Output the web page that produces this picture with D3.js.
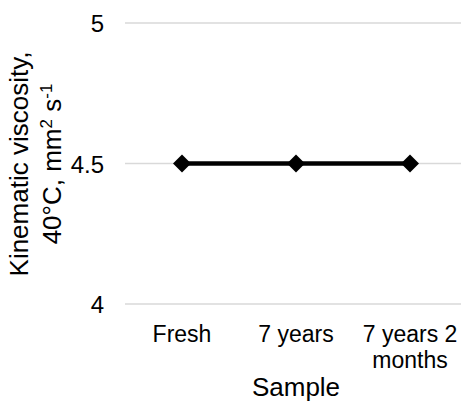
<!DOCTYPE html>
<html>
<head>
<meta charset="utf-8">
<script src="https://cdn.jsdelivr.net/npm/d3@7"></script>
<style>
  body { margin: 0; background: #fff; }
  text { font-family: "Liberation Sans", Arial, sans-serif; fill: #000; }
</style>
</head>
<body>
<svg width="461" height="401"></svg>
<script>
// data
var categories = ['Fresh', '7 years', '7 years 2 months'];
var viscosity = [4.5, 4.5, 4.5];
var yTicks = [4, 4.5, 5];

var svg = d3.select('svg');
var margin = {left: 125, right: -6, top: 23, bottom: 97};
var width = +svg.attr('width'), height = +svg.attr('height');
var innerwidth = width - margin.left - margin.right;
var innerheight = height - margin.top - margin.bottom;

var xscale = d3.scaleBand()
  .domain(categories)
  .range([0, innerwidth]);

var yscale = d3.scaleLinear()
  .domain([4, 5])
  .range([innerheight, 0]);

var g = svg.append('g').attr('transform', `translate(${margin.left},${margin.top})`);

// gridlines
g.append('g').selectAll('line').data(yTicks).enter()
  .append('line')
  .attr('x1', 0).attr('x2', innerwidth)
  .attr('y1', d => yscale(d)).attr('y2', d => yscale(d))
  .attr('stroke', '#d9d9d9').attr('stroke-width', 1.3);

// y axis labels
var yaxis = g.append('g').call(d3.axisLeft(yscale).tickValues(yTicks).tickSize(0).tickPadding(21).tickFormat(d => d));
yaxis.select('.domain').remove();
yaxis.selectAll('text').style('font-size', '24px').attr('font-family', null).attr('dy', '0.36em');

// x axis labels (wrapped like the original)
var xaxis = g.append('g').attr('transform', `translate(0,${innerheight})`)
  .call(d3.axisBottom(xscale).tickSize(0).tickPadding(0).tickFormat(''));
xaxis.select('.domain').remove();
xaxis.selectAll('.tick').each(function(d) {
  var t = d3.select(this).append('text').attr('text-anchor', 'middle').style('font-size', '23px');
  var lines = d === '7 years 2 months' ? ['7 years 2', 'months'] : [d];
  lines.forEach((s, i) => t.append('tspan').attr('x', 0).attr('y', 38 + i * 26).text(s));
});

// line + diamond markers
var pts = categories.map((c, i) => ({c: c, v: viscosity[i]}));
var cx = d => xscale(d.c) + xscale.bandwidth() / 2;

g.append('path').datum(pts)
  .attr('fill', 'none').attr('stroke', '#000').attr('stroke-width', 4.5)
  .attr('d', d3.line().x(cx).y(d => yscale(d.v)));

g.append('g').selectAll('path').data(pts).enter()
  .append('path')
  .attr('transform', d => `translate(${cx(d)},${yscale(d.v)})`)
  .attr('d', 'M0,-9L9,0L0,9L-9,0Z')
  .attr('fill', '#000');

// axis titles
svg.append('text')
  .attr('x', 296).attr('y', 396)
  .attr('text-anchor', 'middle')
  .style('font-size', '26px')
  .text('Sample');

var ytitle = svg.append('text')
  .attr('transform', 'translate(0,164) rotate(-90)')
  .attr('text-anchor', 'middle')
  .style('font-size', '26px');
ytitle.append('tspan').attr('x', 0).attr('y', 28).text('Kinematic viscosity,');
var l2 = ytitle.append('tspan').attr('x', 0).attr('y', 61);
l2.append('tspan').text('40°C, mm');
l2.append('tspan').attr('dy', -9).style('font-size', '17px').text('2');
l2.append('tspan').attr('dy', 9).text(' s');
l2.append('tspan').attr('dy', -9).style('font-size', '17px').text('-1');
</script>
</body>
</html>
